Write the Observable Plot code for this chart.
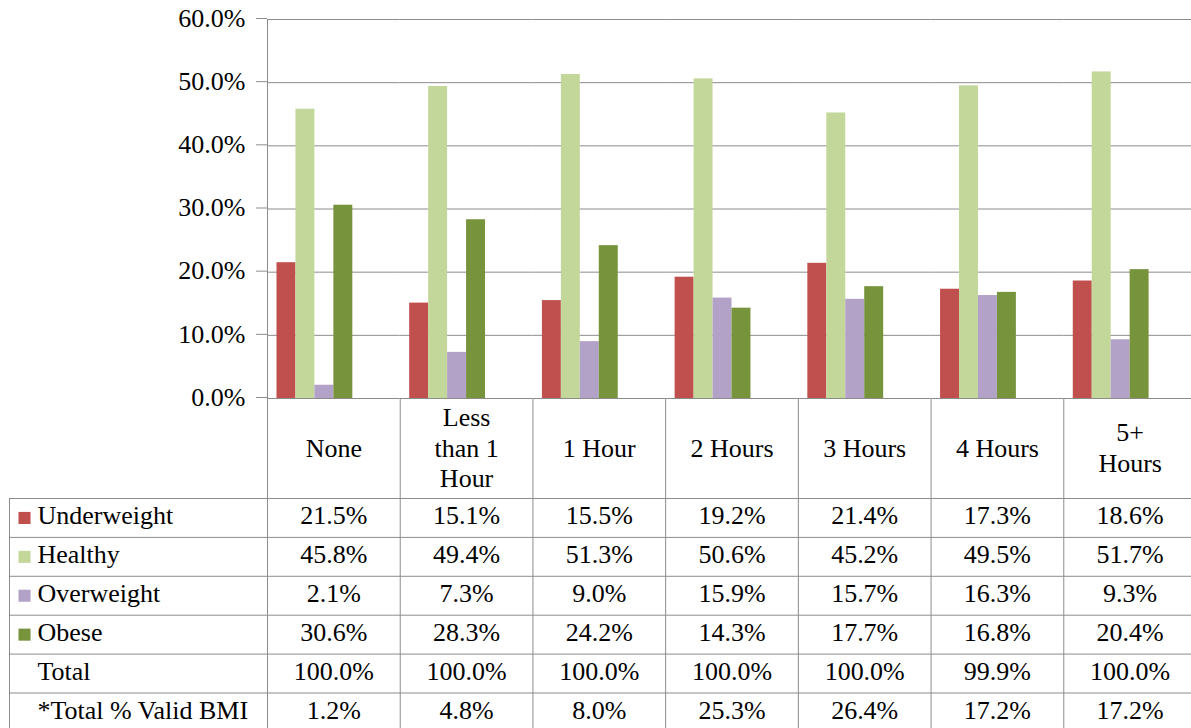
<!DOCTYPE html>
<html>
<head>
<meta charset="utf-8">
<script src="https://cdn.jsdelivr.net/npm/d3@7"></script>
<script src="https://cdn.jsdelivr.net/npm/@observablehq/plot@0.6"></script>
<style>
  html, body { margin: 0; padding: 0; background: #fff; overflow: hidden; }
  #chart svg, #table svg { display: block; max-width: none; }
</style>
</head>
<body>
<div id="chart"></div>
<div id="table"></div>
<script>
// ---- data ----
const categories = ["None", "Less than 1 Hour", "1 Hour", "2 Hours", "3 Hours", "4 Hours", "5+ Hours"];
const headerLabels = ["None", "Less\nthan 1\nHour", "1 Hour", "2 Hours", "3 Hours", "4 Hours", "5+\nHours"];
const seriesNames = ["Underweight", "Healthy", "Overweight", "Obese"];
const rowNames = ["Underweight", "Healthy", "Overweight", "Obese", "Total", "*Total % Valid BMI"];
const underweight = [21.5, 15.1, 15.5, 19.2, 21.4, 17.3, 18.6];
const healthy = [45.8, 49.4, 51.3, 50.6, 45.2, 49.5, 51.7];
const overweight = [2.1, 7.3, 9.0, 15.9, 15.7, 16.3, 9.3];
const obese = [30.6, 28.3, 24.2, 14.3, 17.7, 16.8, 20.4];
const total = [100.0, 100.0, 100.0, 100.0, 100.0, 99.9, 100.0];
const validBMI = [1.2, 4.8, 8.0, 25.3, 26.4, 17.2, 17.2];
const yTicks = [0, 10, 20, 30, 40, 50, 60];
const seriesColors = ["#C0504D", "#C4D79B", "#B3A2C7", "#77933C"];

// ---- derived tables ----
const rowValues = [underweight, healthy, overweight, obese, total, validBMI];
const barData = seriesNames.flatMap((s, i) =>
  categories.map((c, j) => ({cat: c, series: s, value: rowValues[i][j]})));
const tableCells = rowNames.flatMap((r, i) =>
  categories.map((c, j) => ({cat: c, row: r, label: rowValues[i][j].toFixed(1) + "%"})));

const gray = "#8c8c8c";
const font = {fontFamily: "'Liberation Serif', 'Times New Roman', serif", fontSize: "26px", background: "#fff", color: "#000", overflow: "visible"};
const W = 1196, ML = 267;
const colHalf = (W - ML) / categories.length / 2;

const chart = Plot.plot({
  width: W, height: 399,
  marginLeft: ML, marginRight: 0, marginTop: 19, marginBottom: 1,
  style: font,
  fx: {domain: categories, padding: 0, round: false, axis: null, label: null},
  x: {domain: rowNames, paddingInner: 0, paddingOuter: 0.5, round: false, axis: null, label: null},
  y: {domain: [0, 60], label: null},
  color: {domain: seriesNames, range: seriesColors},
  marks: [
    Plot.gridY(yTicks, {stroke: gray, strokeOpacity: 1}),
    Plot.barY(barData, {fx: "cat", x: "series", y: "value", fill: "series"}),
    Plot.axisY(yTicks, {tickSize: 11, tickPadding: 11, stroke: gray, fill: "#000", dy: -1,
      tickFormat: d => d.toFixed(1) + "%", label: null}),
    Plot.frame({anchor: "left", stroke: gray, facetAnchor: "left"})
  ]
});
document.getElementById("chart").append(chart);

const rowH = 38.9;
const table = Plot.plot({
  width: W, height: 99 + rowH * rowNames.length,
  marginLeft: ML, marginRight: 0, marginTop: 99, marginBottom: 0,
  style: font,
  x: {type: "band", domain: categories, padding: 0, round: false, axis: null},
  y: {type: "band", domain: rowNames, padding: 0, round: false, axis: null},
  marks: [
    Plot.ruleX(categories, {x: d => d, dx: -colHalf, insetTop: -99, stroke: gray}),
    Plot.ruleX(categories.slice(-1), {x: d => d, dx: colHalf, insetTop: -99, stroke: gray}),
    Plot.ruleX(categories.slice(0, 1), {x: d => d, dx: -colHalf - 258, stroke: gray}),
    Plot.ruleY(rowNames, {y: d => d, dy: -rowH / 2, insetLeft: -258, stroke: gray}),
    Plot.ruleY(rowNames.slice(-1), {y: d => d, dy: rowH / 2, insetLeft: -258, stroke: gray}),
    Plot.text(categories, {x: d => d, text: (d, i) => headerLabels[i], frameAnchor: "top",
      dy: -51.5, lineAnchor: "middle", lineHeight: 1.18, fill: "#000"}),
    Plot.text(tableCells, {x: "cat", y: "row", text: "label", dy: -2, fill: "#000"}),
    Plot.dot(seriesNames, {y: d => d, frameAnchor: "left", dx: -243, symbol: "square", r: 6.8,
      fill: (d, i) => seriesColors[i]}),
    Plot.text(rowNames, {y: d => d, text: d => d, frameAnchor: "left", dx: -230, dy: -2,
      textAnchor: "start", fill: "#000"})
  ]
});
document.getElementById("table").append(table);
</script>
</body>
</html>
